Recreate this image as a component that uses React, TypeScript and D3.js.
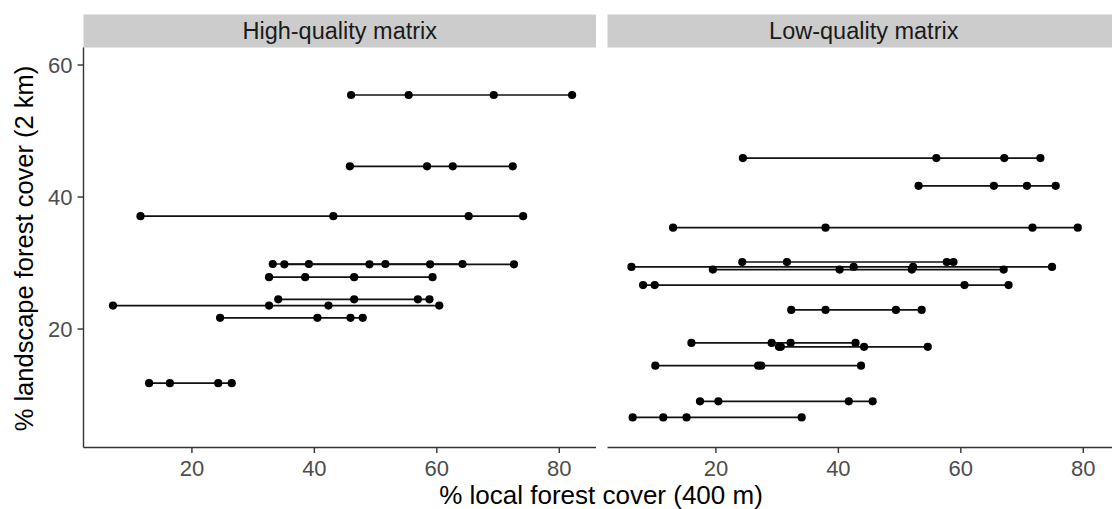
import React from "react";
import * as d3 from "d3";

// Each site: landscape forest cover (2 km) and the local forest cover (400 m) values
const panelTitles = ["High-quality matrix", "Low-quality matrix"];

const highQuality: { landscape: number; local: number[] }[] = [
  { landscape: 55.45, local: [46.0, 55.4, 69.3, 82.1] },
  { landscape: 44.65, local: [45.8, 58.4, 62.6, 72.4] },
  { landscape: 37.1, local: [11.6, 43.1, 65.2, 74.1] },
  { landscape: 29.85, local: [33.2, 39.1, 51.6, 64.2] },
  { landscape: 29.8, local: [35.1, 49.0, 58.9, 72.6] },
  { landscape: 27.85, local: [32.6, 38.5, 46.5, 59.3] },
  { landscape: 24.5, local: [34.1, 46.5, 56.9, 58.8] },
  { landscape: 23.55, local: [7.1, 32.6, 42.3, 60.4] },
  { landscape: 21.7, local: [24.6, 40.5, 45.9, 47.9] },
  { landscape: 11.8, local: [13.0, 16.4, 24.3, 26.5] },
];

const lowQuality: { landscape: number; local: number[] }[] = [
  { landscape: 45.9, local: [24.4, 56.0, 67.1, 73.0] },
  { landscape: 41.7, local: [53.1, 65.4, 70.8, 75.5] },
  { landscape: 35.35, local: [13.0, 37.9, 71.7, 79.1] },
  { landscape: 30.15, local: [24.3, 31.6, 57.7, 58.8] },
  { landscape: 29.4, local: [6.2, 42.5, 52.2, 74.9] },
  { landscape: 29.0, local: [19.5, 40.2, 52.0, 67.0] },
  { landscape: 26.65, local: [8.1, 10.0, 60.6, 67.8] },
  { landscape: 22.9, local: [32.3, 37.9, 49.4, 53.6] },
  { landscape: 17.9, local: [16.0, 29.1, 32.2, 42.8] },
  { landscape: 17.3, local: [30.3, 30.6, 44.2, 54.6] },
  { landscape: 14.45, local: [10.1, 26.9, 27.4, 43.7] },
  { landscape: 9.05, local: [17.4, 20.4, 41.7, 45.6] },
  { landscape: 6.6, local: [6.4, 11.4, 15.2, 34.0] },
];

const xTicks = [20, 40, 60, 80];
const yTicks = [20, 40, 60];

const xTitle = "% local forest cover (400 m)";
const yTitle = "% landscape forest cover (2 km)";

const W = 1112;
const H = 509;
const panelTop = 47.5;
const panelBottom = 447.5;
const stripTop = 14.5;
const panelW = 512.5;
const panelLefts = [83.5, 607.5];

export default function App() {
  const panels = [highQuality, lowQuality];

  const x = d3.scaleLinear().domain([2.29, 86.0]).range([0, panelW]);
  const y = d3.scaleLinear().domain([2.05, 62.65]).range([panelBottom, panelTop]);
  const line = d3
    .line<number>()
    .x((d) => x(d))
    .y(0);

  const axisColor = "#333333";
  const tickText = "#4d4d4d";
  const font = "'Liberation Sans', Arial, Helvetica, sans-serif";

  return (
    <svg
      width={W}
      height={H}
      style={{ position: "absolute", left: 0, top: 0, background: "#fff" }}
      fontFamily={font}
    >
      {panels.map((rows, pi) => {
        const left = panelLefts[pi];
        return (
          <g key={pi} transform={`translate(${left},0)`}>
            {/* strip */}
            <rect
              x={0}
              y={stripTop}
              width={panelW}
              height={panelTop - stripTop}
              fill="#cccccc"
            />
            <text
              x={panelW / 2}
              y={(stripTop + panelTop) / 2}
              dy="0.35em"
              textAnchor="middle"
              fontSize={23.5}
              fill="#1a1a1a"
            >
              {panelTitles[pi]}
            </text>

            {/* rows */}
            {rows.map((r, ri) => {
              const ext = d3.extent(r.local) as [number, number];
              return (
                <g key={ri} transform={`translate(0,${y(r.landscape)})`}>
                  <path d={line(ext) ?? ""} stroke="#111" strokeWidth={1.7} fill="none" />
                  {r.local.map((v, vi) => (
                    <circle key={vi} cx={x(v)} cy={0} r={4.1} fill="#000" />
                  ))}
                </g>
              );
            })}

            {/* x axis */}
            <line
              x1={0}
              x2={panelW}
              y1={panelBottom}
              y2={panelBottom}
              stroke={axisColor}
              strokeWidth={1.4}
            />
            {xTicks.map((t) => (
              <g key={t} transform={`translate(${x(t)},${panelBottom})`}>
                <line y1={0} y2={5.5} stroke={axisColor} strokeWidth={1.4} />
                <text y={21} dy="0.35em" textAnchor="middle" fontSize={22} fill={tickText}>
                  {t}
                </text>
              </g>
            ))}

            {/* y axis on the first panel only */}
            {pi === 0 && (
              <g>
                <line
                  x1={0}
                  x2={0}
                  y1={panelTop}
                  y2={panelBottom}
                  stroke={axisColor}
                  strokeWidth={1.4}
                />
                {yTicks.map((t) => (
                  <g key={t} transform={`translate(0,${y(t)})`}>
                    <line x1={-6} x2={0} stroke={axisColor} strokeWidth={1.4} />
                    <text x={-11} dy="0.35em" textAnchor="end" fontSize={22} fill={tickText}>
                      {t}
                    </text>
                  </g>
                ))}
              </g>
            )}
          </g>
        );
      })}

      <text x={601} y={495} dy="0.35em" textAnchor="middle" fontSize={26} fill="#000">
        {xTitle}
      </text>
      <text
        transform={`translate(24,${(panelTop + panelBottom) / 2 + 1}) rotate(-90)`}
        dy="0.35em"
        textAnchor="middle"
        fontSize={25.5}
        fill="#000"
      >
        {yTitle}
      </text>
    </svg>
  );
}
